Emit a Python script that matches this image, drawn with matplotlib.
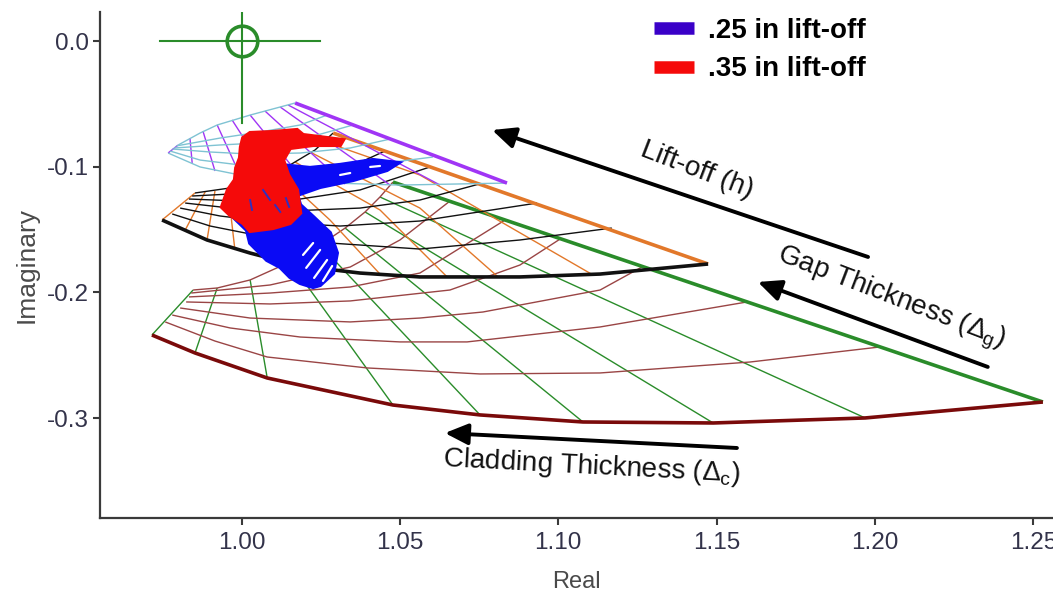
import matplotlib
matplotlib.use("Agg")
import matplotlib.pyplot as plt
from matplotlib import font_manager as fm
from matplotlib.lines import Line2D

# ---------------- data ----------------
x_ticks = [1.00, 1.05, 1.10, 1.15, 1.20, 1.25]
x_tick_labels = ["1.00", "1.05", "1.10", "1.15", "1.20", "1.25"]
y_ticks = [0.0, -0.1, -0.2, -0.3]
y_tick_labels = ["0.0", "-0.1", "-0.2", "-0.3"]

# Grid C (cladding grid): dark-red arcs (rows) and green radial lines (cols)
gridC_rows_x = [
    [0.9717, 0.9853, 1.0081, 1.0478, 1.0753, 1.1078, 1.1489, 1.1969, 1.2530],
    [0.9759, 0.9916, 1.0081, 1.0396, 1.0753, 1.1132, 1.1605, 1.2016],
    [0.9781, 0.9964, 1.0185, 1.0500, 1.0712, 1.1132, 1.1596],
    [0.9806, 1.0027, 1.0343, 1.0563, 1.0762, 1.1132, 1.1264],
    [0.9825, 1.0090, 1.0343, 1.0658, 1.0879, 1.1006],
    [0.9834, 1.0090, 1.0343, 1.0563, 1.0832],
    [0.9841, 1.0090, 1.0343, 1.0500, 1.0658],
    [0.9847, 0.9923, 1.0027, 1.0153, 1.0248, 1.0327, 1.0390, 1.0437, 1.0478],
]
gridC_rows_y = [
    [-0.2339, -0.2482, -0.2681, -0.2896, -0.2975, -0.3031, -0.3039, -0.2999, -0.2872],
    [-0.2235, -0.2387, -0.2514, -0.2601, -0.2649, -0.2641, -0.2554, -0.2434],
    [-0.2180, -0.2283, -0.2355, -0.2394, -0.2394, -0.2275, -0.2076],
    [-0.2124, -0.2204, -0.2235, -0.2204, -0.2156, -0.1981, -0.1798],
    [-0.2076, -0.2092, -0.2068, -0.1981, -0.1782, -0.1575],
    [-0.2036, -0.2005, -0.1957, -0.1846, -0.1424],
    [-0.2005, -0.1941, -0.1798, -0.1583, -0.1273],
    [-0.1981, -0.1965, -0.1901, -0.1758, -0.1623, -0.1488, -0.1360, -0.1241, -0.1122],
]
gridC_cols_x = [
    [0.9847, 0.9717], [0.9923, 0.9853], [1.0027, 1.0081], [1.0153, 1.0478],
    [1.0248, 1.0753], [1.0327, 1.1078], [1.0390, 1.1489], [1.0437, 1.1969],
    [1.0478, 1.2530],
]
gridC_cols_y = [
    [-0.1981, -0.2339], [-0.1965, -0.2482], [-0.1901, -0.2681], [-0.1758, -0.2896],
    [-0.1623, -0.2975], [-0.1488, -0.3031], [-0.1360, -0.3039], [-0.1241, -0.2999],
    [-0.1122, -0.2872],
]

# Grid B (gap grid): black arcs (rows) and orange lines (cols)
gridB_rows_x = [
    [0.9749, 0.9891, 1.0027, 1.0185, 1.0374, 1.0563, 1.0879, 1.1132, 1.1473],
    [0.9781, 0.9901, 1.0027, 1.0279, 1.0563, 1.0879, 1.1169],
    [0.9806, 0.9932, 1.0090, 1.0311, 1.0563, 1.0933],
    [0.9822, 0.9964, 1.0153, 1.0374, 1.0563, 1.0750],
    [0.9834, 0.9995, 1.0185, 1.0374, 1.0595],
    [0.9844, 1.0027, 1.0216, 1.0453],
    [0.9853, 0.9964, 1.0058, 1.0153, 1.0232, 1.0289],
]
gridB_rows_y = [
    [-0.1424, -0.1583, -0.1687, -0.1790, -0.1846, -0.1877, -0.1877, -0.1854, -0.1774],
    [-0.1376, -0.1472, -0.1535, -0.1607, -0.1655, -0.1583, -0.1488],
    [-0.1329, -0.1392, -0.1440, -0.1472, -0.1432, -0.1289],
    [-0.1289, -0.1329, -0.1352, -0.1329, -0.1265, -0.1138],
    [-0.1257, -0.1273, -0.1257, -0.1185, -0.1002],
    [-0.1233, -0.1209, -0.1146, -0.0875],
    [-0.1209, -0.1169, -0.1106, -0.0986, -0.0867, -0.0732],
]
gridB_cols_x = [
    [0.9853, 0.9749], [0.9885, 0.9822], [0.9916, 0.9891], [0.9957, 0.9979],
    [1.0005, 1.0090], [1.0058, 1.0153, 1.0248], [1.0115, 1.0279, 1.0437],
    [1.0169, 1.0437, 1.0649], [1.0216, 1.0563, 1.0810], [1.0264, 1.0563, 1.1110],
    [1.0289, 1.1473],
]
gridB_cols_y = [
    [-0.1209, -0.1424], [-0.1201, -0.1504], [-0.1193, -0.1583], [-0.1177, -0.1663],
    [-0.1161, -0.1742], [-0.1106, -0.1464, -0.1806], [-0.1042, -0.1424, -0.1854],
    [-0.0963, -0.1344, -0.1877], [-0.0883, -0.1329, -0.1877], [-0.0803, -0.1066, -0.1862],
    [-0.0732, -0.1774],
]

# Grid A (lift-off grid): cyan arcs (rows) and purple lines (cols)
gridA_rows_x = [
    [0.9768, 0.9869, 0.9995, 1.0185, 1.0500, 1.0838],
    [0.9774, 0.9869, 0.9995, 1.0185, 1.0406, 1.0604],
    [0.9781, 0.9901, 1.0027, 1.0185, 1.0343, 1.0469],
    [0.9787, 0.9932, 1.0058, 1.0216, 1.0352],
    [0.9793, 0.9932, 1.0058, 1.0185, 1.0270],
    [0.9800, 0.9869, 0.9923, 1.0027, 1.0169],
]
gridA_rows_y = [
    [-0.0891, -0.1002, -0.1066, -0.1122, -0.1146, -0.1130],
    [-0.0875, -0.0947, -0.0986, -0.1010, -0.0986, -0.0923],
    [-0.0859, -0.0883, -0.0899, -0.0891, -0.0851, -0.0780],
    [-0.0851, -0.0827, -0.0811, -0.0764, -0.0668],
    [-0.0835, -0.0772, -0.0724, -0.0668, -0.0589],
    [-0.0827, -0.0732, -0.0668, -0.0589, -0.0493],
]
gridA_cols_x = [
    [0.9800, 0.9768], [0.9837, 0.9844], [0.9878, 0.9916], [0.9923, 0.9995],
    [0.9970, 1.0090], [1.0027, 1.0200], [1.0074, 1.0327], [1.0122, 1.0469],
    [1.0147, 1.0627], [1.0169, 1.0838],
]
gridA_cols_y = [
    [-0.0827, -0.0891], [-0.0772, -0.0970], [-0.0716, -0.1034], [-0.0668, -0.1066],
    [-0.0628, -0.1098], [-0.0589, -0.1122], [-0.0557, -0.1138], [-0.0525, -0.1146],
    [-0.0509, -0.1146], [-0.0493, -0.1130],
]

# Measured signal traces (outline of the scribbled regions)
blue_025_x = [0.9942, 1.0017, 1.0027, 1.0080, 1.0122, 1.0153, 1.0185, 1.0226, 1.0248,
              1.0289, 1.0301, 1.0279, 1.0226, 1.0185, 1.0175, 1.0248, 1.0352, 1.0459,
              1.0494, 1.0415, 1.0311, 1.0216, 1.0122, 1.0074, 1.0027, 0.9979]
blue_025_y = [-0.1321, -0.1504, -0.1607, -0.1742, -0.1798, -0.1877, -0.1925, -0.1957, -0.1941,
              -0.1846, -0.1686, -0.1527, -0.1400, -0.1305, -0.1225, -0.1161, -0.1106, -0.1026,
              -0.0970, -0.0947, -0.0986, -0.1010, -0.0986, -0.1010, -0.1106, -0.1185]
red_035_x = [1.0005, 1.0027, 1.0099, 1.0175, 1.0194, 1.0270, 1.0320, 1.0311, 1.0226, 1.0153,
             1.0131, 1.0147, 1.0175, 1.0185, 1.0153, 1.0099, 1.0027, 1.0005, 0.9964, 0.9938,
             0.9957, 0.9979, 0.9983, 0.9995, 0.9998]
red_035_y = [-0.0772, -0.0732, -0.0724, -0.0708, -0.0748, -0.0772, -0.0788, -0.0827, -0.0827, -0.0851,
             -0.0947, -0.1066, -0.1185, -0.1368, -0.1448, -0.1488, -0.1511, -0.1448, -0.1384, -0.1321,
             -0.1185, -0.1106, -0.1010, -0.0931, -0.0843]
blue_gaps_x = [[1.0194, 1.0226], [1.0204, 1.0248], [1.0229, 1.0270], [1.0257, 1.0286],
               [1.0311, 1.0343], [1.0406, 1.0437]]
blue_gaps_y = [[-0.1702, -0.1607], [-0.1805, -0.1662], [-0.1885, -0.1742], [-0.1909, -0.1790],
               [-0.1066, -0.1050], [-0.1002, -0.0994]]
red_marks_x = [[1.0068, 1.0090], [1.0106, 1.0122], [1.0027, 1.0033], [1.0140, 1.0150]]
red_marks_y = [[-0.1185, -0.1265], [-0.1305, -0.1360], [-0.1265, -0.1344], [-0.1250, -0.1320]]

# Reference point (air point) cross
ref_point = (1.0, 0.0)
ref_hline_x = [0.9743, 1.0248]
ref_vline_y = [0.0231, -0.0652]

# Arrows (tail -> head) and labels
arrow_liftoff = ((1.1978, -0.1718), (1.0791, -0.0708))
arrow_gap = ((1.2356, -0.2593), (1.1630, -0.1917))
arrow_clad = ((1.1564, -0.3238), (1.0642, -0.3119))
label_liftoff = (1.1438, -0.1026)
label_gap = (1.2050, -0.2045)
label_clad = (1.1106, -0.3389)

legend_labels = [".25 in lift-off", ".35 in lift-off"]

# ---------------- styling ----------------
names = {f.name for f in fm.fontManager.ttflist}
narrow = "Liberation Sans Narrow" in names
TICKFONT = "Liberation Sans Narrow" if narrow else "Liberation Sans"
TICKSIZE = 20 if narrow else 17.5
BASEFONT = "Liberation Sans"

plt.rcParams["font.family"] = [BASEFONT, "DejaVu Sans"]
plt.rcParams["mathtext.fontset"] = "custom"
plt.rcParams["mathtext.rm"] = BASEFONT
plt.rcParams["mathtext.it"] = BASEFONT + ":italic"

C_PURPLE = "#A035F5"
C_CYAN = "#7FC3D3"
C_ORANGE = "#E2782A"
C_GREEN = "#2A8C2A"
C_DRED_THIN = "#9A4545"
C_DRED = "#7A0A0A"
C_BLACK = "#111111"
C_BLUE = "#0A0AF5"
C_RED = "#F50A0A"
C_LEG_BLUE = "#3A00C8"

THIN = 1.0
THICK = 2.6

fig = plt.figure(figsize=(10.53, 5.96), dpi=100)
ax = fig.add_axes([100 / 1053, 78 / 596, 953 / 1053, 506 / 596])


def draw_grid(rows_x, rows_y, cols_x, cols_y, row_c, col_c, row_thick_c, col_thick_c,
              row_thick_idx, col_thick_idx, z):
    for i, (xs, ys) in enumerate(zip(cols_x, cols_y)):
        thick = i == col_thick_idx
        ax.plot(xs, ys, color=col_thick_c if thick else col_c,
                lw=THICK if thick else THIN, zorder=z + (0.5 if thick else 0),
                solid_capstyle="butt")
    for i, (xs, ys) in enumerate(zip(rows_x, rows_y)):
        thick = i == row_thick_idx
        ax.plot(xs, ys, color=row_thick_c if thick else row_c,
                lw=THICK if thick else THIN, zorder=z + (0.5 if thick else 0.1),
                solid_capstyle="butt")


draw_grid(gridC_rows_x, gridC_rows_y, gridC_cols_x, gridC_cols_y,
          C_DRED_THIN, C_GREEN, C_DRED, C_GREEN, 0, len(gridC_cols_x) - 1, 2)
draw_grid(gridB_rows_x, gridB_rows_y, gridB_cols_x, gridB_cols_y,
          C_BLACK, C_ORANGE, C_BLACK, C_ORANGE, 0, len(gridB_cols_x) - 1, 3)
draw_grid(gridA_rows_x, gridA_rows_y, gridA_cols_x, gridA_cols_y,
          C_CYAN, C_PURPLE, C_CYAN, C_PURPLE, -1, len(gridA_cols_x) - 1, 4)

# signal traces
ax.fill(blue_025_x, blue_025_y, color=C_BLUE, lw=3, ec=C_BLUE, zorder=6)
for xs, ys in zip(blue_gaps_x, blue_gaps_y):
    ax.plot(xs, ys, color="white", lw=1.6, zorder=6.2, solid_capstyle="round")
ax.fill(red_035_x, red_035_y, color=C_RED, lw=3, ec=C_RED, zorder=7)
for xs, ys in zip(red_marks_x, red_marks_y):
    ax.plot(xs, ys, color="#3030c0", lw=1.4, zorder=7.2)

# reference cross
ax.plot(ref_hline_x, [ref_point[1]] * 2, color=C_GREEN, lw=1.5, zorder=5)
ax.plot([ref_point[0]] * 2, ref_vline_y, color=C_GREEN, lw=1.5, zorder=5)
ax.plot([ref_point[0]], [ref_point[1]], marker="o", ms=22, mfc="none", mec=C_GREEN,
        mew=2.6, zorder=5)

# arrows
for tail, head in (arrow_liftoff, arrow_gap, arrow_clad):
    ax.annotate("", xy=head, xytext=tail,
                arrowprops=dict(arrowstyle="-|>,head_length=0.7,head_width=0.32",
                                lw=2.8, color="black", mutation_scale=20,
                                shrinkA=0, shrinkB=0), zorder=8)

ax.text(*label_liftoff, "Lift-off (h)", rotation=-21, rotation_mode="anchor",
        ha="center", va="center", fontsize=20, color="#111111", zorder=8)
ax.text(*label_gap, r"Gap Thickness ($\Delta_\mathrm{g}$)", rotation=-21,
        rotation_mode="anchor", ha="center", va="center", fontsize=20,
        color="#111111", zorder=8)
ax.text(*label_clad, r"Cladding Thickness ($\Delta_\mathrm{c}$)", rotation=-3,
        rotation_mode="anchor", ha="center", va="center", fontsize=20,
        color="#111111", zorder=8)

# axes styling
ax.set_xlim(0.9553, 1.2562)
ax.set_ylim(-0.3795, 0.0231)
for s in ("top", "right"):
    ax.spines[s].set_visible(False)
for s in ("left", "bottom"):
    ax.spines[s].set_color("#3a3a3a")
    ax.spines[s].set_linewidth(1.6)
ax.set_xticks(x_ticks)
ax.set_xticklabels(x_tick_labels)
ax.set_yticks(y_ticks)
ax.set_yticklabels(y_tick_labels)
ax.tick_params(axis="both", length=5, width=1.5, color="#3a3a3a", direction="out",
               labelcolor="#33334a", labelsize=TICKSIZE)
for lab in ax.get_xticklabels() + ax.get_yticklabels():
    lab.set_family([TICKFONT, "DejaVu Sans"])
ax.tick_params(axis="x", pad=5)
ax.tick_params(axis="y", pad=3)
ax.set_xlabel("Real", fontsize=17, color="#4a4a4a", labelpad=12,
              family=[TICKFONT, "DejaVu Sans"])
ax.set_ylabel("Imaginary", fontsize=19, color="#4a4a4a", labelpad=6)

handles = [Line2D([0], [0], color=C_LEG_BLUE, lw=9, solid_capstyle="butt"),
           Line2D([0], [0], color=C_RED, lw=9, solid_capstyle="butt")]
fig.legend(handles, legend_labels, loc="upper left",
           bbox_to_anchor=(640 / 1053, 1 - 4 / 596), bbox_transform=fig.transFigure,
           frameon=False, handlelength=1.45, handletextpad=0.5, labelspacing=0.45,
           borderpad=0, prop=dict(family=BASEFONT, weight="bold", size=20))

fig.savefig("out.png", dpi=100)
